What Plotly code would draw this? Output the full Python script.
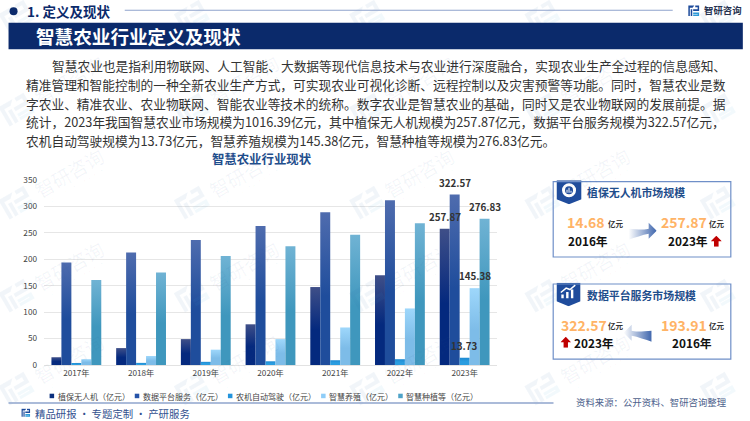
import base64
import plotly.graph_objects as go

years = ["2017年", "2018年", "2019年", "2020年", "2021年", "2022年", "2023年"]
drone = [14.68, 32, 49, 77, 147.5, 169.6, 257.87]
platform = [193.91, 213, 236.4, 263, 289, 311.5, 322.57]
autodrive = [3, 4, 6, 7, 9, 11, 13.73]
breeding = [11, 17, 29, 49, 71, 107, 145.38]
planting = [161, 175, 206, 224.5, 246.5, 268, 276.83]
series_names = ["植保无人机（亿元）", "数据平台服务（亿元）", "农机自动驾驶（亿元）", "智慧养殖（亿元）", "智慧种植等（亿元）"]
series_colors = ["#0a2f7e", "#2553a8", "#2494dc", "#8fcdf8", "#4fa3c8"]
series_grad = [("#3f4f88", "#04297e"), ("#4f6cae", "#1f4d9c"), ("#1f8ad2", "#2a9de0"), ("#9ed7fb", "#7dbce8"), ("#70b3d4", "#3f97bd")]

heading = "1. 定义及现状"
banner = "智慧农业行业定义及现状"
brand = "智研咨询"
chart_title = "智慧农业行业现状"
body_lines = [
    "智慧农业也是指利用物联网、人工智能、大数据等现代信息技术与农业进行深度融合，实现农业生产全过程的信息感知、",
    "精准管理和智能控制的一种全新农业生产方式，可实现农业可视化诊断、远程控制以及灾害预警等功能。同时，智慧农业是数",
    "字农业、精准农业、农业物联网、智能农业等技术的统称。数字农业是智慧农业的基础，同时又是农业物联网的发展前提。据",
    "统计，2023年我国智慧农业市场规模为1016.39亿元，其中植保无人机规模为257.87亿元，数据平台服务规模为322.57亿元，",
    "农机自动驾驶规模为13.73亿元，智慧养殖规模为145.38亿元，智慧种植等规模为276.83亿元。",
]
footer_left = "精品研报 · 专题定制 · 产研服务"
footer_right = "资料来源：公开资料、智研咨询整理"

W, H = 750, 421
L, R, T, B = 44.4, 496.6, 180.3, 365.3
px = lambda x: (x - L) / (R - L)
py = lambda y: (B - y) / (B - T)

annotations, shapes, images = [], [], []


def text(x, y, s, size, color, bold=False, anchor="left", angle=0):
    annotations.append(dict(
        x=px(x), y=py(y), xref="paper", yref="paper", text=f"<b>{s}</b>" if bold else s,
        showarrow=False, xanchor=anchor, yanchor="middle", textangle=angle, borderpad=0,
        font=dict(size=size, color=color, family="Noto Sans CJK SC"),
    ))


def rect(x0, y0, x1, y1, fill="rgba(0,0,0,0)", line=None, width=0):
    shapes.append(dict(type="rect", xref="paper", yref="paper", x0=px(x0), x1=px(x1), y0=py(y0), y1=py(y1),
                       fillcolor=fill, line=dict(color=line or "rgba(0,0,0,0)", width=width)))


def image(svg, x, y, w, h, layer="above"):
    uri = "data:image/svg+xml;base64," + base64.b64encode(svg.encode()).decode()
    images.append(dict(source=uri, xref="paper", yref="paper", x=px(x), y=py(y),
                       sizex=w / (R - L), sizey=h / (B - T), xanchor="left", yanchor="top",
                       sizing="stretch", layer=layer))


LOGO = ('<path d="M2 2H22L16 8H7V30H2Z" fill="{a}"/><path d="M25 2H38V17H18V12H33V7H25Z" fill="{a}"/>'
        '<path d="M10 12H15V30H10Z" fill="{a}"/><path d="M18 21H38V30H18V26H33V25H18Z" fill="{b}"/>')


def logo_svg(a, b, rotate=0, op=1):
    return (f'<svg xmlns="http://www.w3.org/2000/svg" width="80" height="80" viewBox="-20 -24 80 80">'
            f'<g opacity="{op}" transform="rotate({rotate} 20 16)">' + LOGO.format(a=a, b=b) + '</g></svg>')


# pale watermark tiled across the page
for wy in [-13, 80, 173, 266, 359]:
    for wx in [-106, 69, 244, 419, 594, 769]:
        if 40 < wx < 700 and wy > 30:
            text(wx, wy, brand, 19, "rgba(40,90,150,0.06)", anchor="center", angle=-30)
            text(wx + 7, wy + 13, "INTELLIGENCE RESEARCH GROUP", 4, "rgba(40,90,150,0.06)", anchor="center", angle=-30)
        image(logo_svg("#2a6aa8", "#38a0d8", -30, 0.06), wx - 52 - 32, wy + 30 - 32, 64, 64)

# header
shapes.append(dict(type="circle", xref="paper", yref="paper", x0=px(10), x1=px(18), y0=py(15.5), y1=py(7.5),
                   fillcolor="#0b2a6b", line=dict(width=0)))
text(26, 11.5, heading, 13.5, "#0b2a6b", True)
rect(125, 10, 672, 11, "#8fa3cc")
image('<svg xmlns="http://www.w3.org/2000/svg" viewBox="0 0 40 32" width="40" height="32">'
      + LOGO.format(a="#1d4a9a", b="#2e9ad8") + '</svg>', 687, 5, 12, 12)
text(702, 10.5, brand, 9.4, "#26324f", True)
rect(9, 23, 742, 49.5, "#0b2a6b")
image('<svg xmlns="http://www.w3.org/2000/svg" viewBox="0 0 20 12" width="20" height="12">'
      '<path d="M0 6L6 0L12 6L6 12Z" fill="#fff"/><path d="M8 6L14 0L20 6L14 12Z" fill="#dfe6f3"/></svg>',
      13.5, 31, 16, 10)
text(35.5, 36, banner, 18.6, "#ffffff", True)

# paragraph
for i, line in enumerate(body_lines):
    text(51 if i == 0 else 25.5, 66 + i * 18.75, line, 12.72, "#333333")

# custom legend
legend_x = [52, 137, 230, 323, 400]
for name, color, lx in zip(series_names, series_colors, legend_x):
    rect(lx - 2, 394, lx + 2.5, 398.5, color)
    text(lx + 5, 396.5, name, 8, "#444444")

# footer
rect(9, 402.5, 553, 404, "#8fa5cc")
image('<svg xmlns="http://www.w3.org/2000/svg" viewBox="0 0 40 32" width="40" height="32">'
      + LOGO.format(a="#1d4a9a", b="#2e9ad8") + '</svg>', 21.5, 408.5, 9.5, 9)
text(34, 414, footer_left, 10.4, "#33518f")
text(574, 402.5, footer_right, 9.4, "#4d5f8c")

# side panels
rect(552.7, 182, 730, 257.3, line="#6f8fc8", width=1.2)
rect(552.7, 284.3, 730, 359.5, line="#6f8fc8", width=1.2)


def badge(icon):
    return ('<svg xmlns="http://www.w3.org/2000/svg" viewBox="0 0 50 48" width="50" height="48">'
            '<path d="M0 0H50V38L25 48L0 38Z" fill="#1f4c9c"/>' + icon + '</svg>')


image(badge('<circle cx="25" cy="20" r="11" fill="none" stroke="#fff" stroke-width="6"/>'
            '<path d="M21 25V19M25 25V15M29 25V21" stroke="#fff" stroke-width="2"/>'), 556, 180.5, 25, 24)
image(badge('<path d="M10 32V24H15V32ZM20 32V19H25V32ZM30 32V14H35V32Z" fill="#fff"/>'
            '<path d="M9 20L20 11L28 14L39 5" fill="none" stroke="#fff" stroke-width="3"/>'), 556, 283, 24, 23.5)


def arrow(flip):
    body = '<path d="M0 8C10 9 18 9 20 8V2L28 10L20 18V13C14 14 6 17 0 19Z" fill="url(#g)"/>'
    if flip:
        body = '<g transform="translate(28,0) scale(-1,1)">' + body + '</g>'
    x1, x2 = ("1", "0") if flip else ("0", "1")
    return (f'<svg xmlns="http://www.w3.org/2000/svg" viewBox="0 0 28 20" width="28" height="20"><defs>'
            f'<linearGradient id="g" x1="{x1}" x2="{x2}" y1="0" y2="0"><stop offset="0" stop-color="#ffffff"/>'
            f'<stop offset="1" stop-color="#3f66ad"/></linearGradient></defs>{body}</svg>')


red_up = ('<svg xmlns="http://www.w3.org/2000/svg" viewBox="0 0 12 12" width="12" height="12">'
          '<path d="M6 0L12 6H8.5V12H3.5V6H0Z" fill="#c00000"/></svg>')
image(arrow(False), 628, 221, 28, 20)
image(arrow(True), 623, 323, 28, 20)
image(red_up, 710, 236, 11, 11)
image(red_up, 560, 337, 10.5, 11)

TITLE_BLUE, ORANGE, DARK = "#1f4e8c", "#ffb366", "#111111"
text(585.5, 192.5, "植保无人机市场规模", 10.9, TITLE_BLUE, True)
text(585, 295, "数据平台服务市场规模", 10.9, TITLE_BLUE, True)
text(585, 222, "14.68", 14, ORANGE, True, "center")
text(683, 222, "257.87", 14, ORANGE, True, "center")
text(583, 325, "322.57", 14, ORANGE, True, "center")
text(683, 325, "193.91", 14, ORANGE, True, "center")
for ux, uy in [(615.5, 224), (716, 224), (615.5, 325.5), (716, 325.5)]:
    text(ux, uy, "亿元", 7.5, "#333333", True, "center")
text(587, 241, "2016年", 11.8, DARK, True, "center")
text(687, 241, "2023年", 11.8, DARK, True, "center")
text(593, 343, "2023年", 11.8, DARK, True, "center")
text(691, 343, "2016年", 11.8, DARK, True, "center")

fig = go.Figure()
all_series = [drone, platform, autodrive, breeding, planting]
for k, (name, values, color) in enumerate(zip(series_names, all_series, series_colors)):
    fig.add_bar(x=years, y=values, name=name, marker=dict(color=color, line=dict(width=0)))
    # value labels sit above every bar, so they are annotations anchored to the data
    annotations.append(dict(x=years[-1], y=values[-1], xref="x", yref="y", text=f"<b>{values[-1]:.2f}</b>",
                            showarrow=False, xanchor="center", yanchor="bottom", xshift=(k - 2) * 10, yshift=3,
                            font=dict(size=9.8, color="#333333", family="Noto Sans CJK SC")))

fig.update_layout(
    width=W, height=H, autosize=False, margin=dict(l=L, r=W - R, t=T, b=H - B, pad=0),
    paper_bgcolor="#ffffff", plot_bgcolor="rgba(0,0,0,0)", barmode="group", bargap=0.23, bargroupgap=0,
    showlegend=False, font=dict(family="Noto Sans CJK SC", color="#444444"),
    title=dict(text=f"<b>{chart_title}</b>", x=261.5 / W, y=1 - 160 / H, xanchor="center", yanchor="middle",
               xref="container", yref="container", font=dict(size=12.4, color="#1f4e8c", family="Noto Sans CJK SC")),
    xaxis=dict(range=[-0.5, 6.5], showgrid=False, showline=True, linecolor="#e2e2e2", linewidth=1, ticks="", tickfont=dict(size=8.2, color="#444444")),
    yaxis=dict(range=[0, 350], tickvals=[0, 50, 100, 150, 200, 250, 300, 350], gridcolor="#e6e6e6", gridwidth=1,
               zeroline=False, showline=False, ticks="", ticklabelstandoff=6, tickfont=dict(size=8.2, color="#444444")),
    annotations=annotations, shapes=shapes, images=images,
)

stops = repr(series_grad)
post = """
document.documentElement.style.margin='0';document.body.style.margin='0';document.body.style.background='#fff';
(function(){
 var gd=document.querySelector('.plotly-graph-div');
 var svg=gd.querySelector('svg.main-svg');
 var defs=svg.querySelector('defs');
 var grads=%s;
 grads.forEach(function(g,i){
  var ns='http://www.w3.org/2000/svg';
  var lg=document.createElementNS(ns,'linearGradient');
  lg.setAttribute('id','bargrad'+i);lg.setAttribute('x1','0');lg.setAttribute('x2','0');lg.setAttribute('y1','0');lg.setAttribute('y2','1');
  [[0,g[0]],[0.55,g[1]],[1,g[1]]].forEach(function(s){var e=document.createElementNS(ns,'stop');e.setAttribute('offset',s[0]);e.setAttribute('stop-color',s[1]);lg.appendChild(e);});
  defs.appendChild(lg);
 });
 gd.querySelectorAll('.barlayer .trace.bars').forEach(function(t,i){
  t.querySelectorAll('.point path').forEach(function(p){p.style.fill='url(#bargrad'+i+')';});
 });
})();
""" % stops.replace("(", "[").replace(")", "]")

fig.write_html("out.html", post_script=post, config={"displayModeBar": False})
